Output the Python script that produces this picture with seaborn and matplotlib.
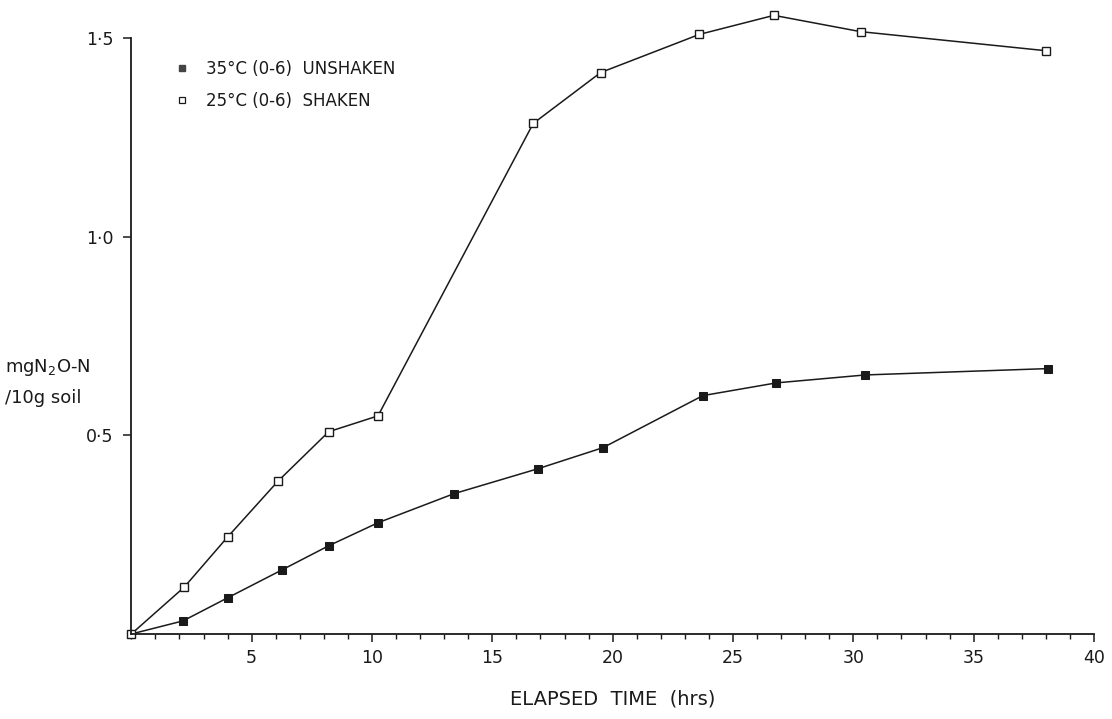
import numpy as np
import pandas as pd
import matplotlib
matplotlib.use("Agg")
import matplotlib.pyplot as plt
from matplotlib.ticker import MultipleLocator, FixedLocator, FixedFormatter
from matplotlib.lines import Line2D
import seaborn as sns

# ---- data ----
shaken_hrs = [0.0, 2.2, 4.0, 6.1, 8.2, 10.25, 16.7, 19.5, 23.6, 26.7, 30.3, 38.0]
shaken_n2o = [0.0, 0.118, 0.244, 0.385, 0.509, 0.549, 1.285, 1.413, 1.509, 1.557, 1.516, 1.468]

unshaken_hrs = [0.0, 2.15, 4.0, 6.25, 8.2, 10.25, 13.4, 16.9, 19.6, 23.75, 26.8, 30.5, 38.1]
unshaken_n2o = [0.0, 0.033, 0.091, 0.161, 0.222, 0.280, 0.353, 0.416, 0.469, 0.600, 0.632, 0.652, 0.668]

series_labels = ["35°C (0-6)  UNSHAKEN", "25°C (0-6)  SHAKEN"]
x_ticks = [5, 10, 15, 20, 25, 30, 35, 40]
y_ticks = [0.5, 1.0, 1.5]
y_tick_labels = ["0·5", "1·0", "1·5"]

df_un = pd.DataFrame({"hrs": unshaken_hrs, "n2o": unshaken_n2o})
df_sh = pd.DataFrame({"hrs": shaken_hrs, "n2o": shaken_n2o})

sns.set_theme(style="ticks")
plt.rcParams["font.family"] = ["DejaVu Sans"]

ink = "#1a1a1a"
fig = plt.figure(figsize=(11.12, 7.19), dpi=100)
ax = fig.add_axes([131.3 / 1112, 1 - 634 / 719, (1094 - 131.3) / 1112, (634 - 38) / 719])

sns.lineplot(data=df_un, x="hrs", y="n2o", ax=ax, color=ink, lw=1.1,
             marker="s", markersize=5.5, markerfacecolor=ink, markeredgecolor=ink,
             estimator=None, sort=False, clip_on=False)
sns.lineplot(data=df_sh, x="hrs", y="n2o", ax=ax, color=ink, lw=1.1,
             marker="s", markersize=5.5, markerfacecolor="white", markeredgecolor=ink,
             markeredgewidth=1.0, estimator=None, sort=False, clip_on=False)

ax.set_xlim(0, 40)
ax.set_ylim(0, 1.5)
for s in ["top", "right"]:
    ax.spines[s].set_visible(False)
for s in ["left", "bottom"]:
    ax.spines[s].set_color(ink)
    ax.spines[s].set_linewidth(1.3)

ax.xaxis.set_major_locator(FixedLocator(x_ticks))
ax.xaxis.set_minor_locator(MultipleLocator(1))
ax.yaxis.set_major_locator(FixedLocator(y_ticks))
ax.yaxis.set_major_formatter(FixedFormatter(y_tick_labels))
ax.tick_params(axis="x", which="major", length=6, width=1.1, color=ink,
               direction="out", pad=5, labelsize=12.5, labelcolor=ink)
ax.tick_params(axis="x", which="minor", length=3.5, width=1.0, color=ink, direction="out")
ax.tick_params(axis="y", which="major", length=6, width=1.1, color=ink,
               direction="out", pad=7, labelsize=12.5, labelcolor=ink)

ax.set_xlabel("ELAPSED  TIME  (hrs)", fontsize=14, color=ink, labelpad=16)
ax.set_ylabel("")

fig.text(5 / 1112, 1 - 368 / 719, "mgN$_2$O-N", fontsize=13, color=ink,
         ha="left", va="center")
fig.text(5 / 1112, 1 - 398 / 719, "/10g soil", fontsize=13, color=ink,
         ha="left", va="center")

handles = [
    Line2D([], [], ls="none", marker="s", markersize=4.5, markerfacecolor="#444444",
           markeredgecolor="#444444"),
    Line2D([], [], ls="none", marker="s", markersize=4.5, markerfacecolor="white",
           markeredgecolor=ink, markeredgewidth=0.9),
]
ax.legend(handles, series_labels, loc="upper left",
          bbox_to_anchor=(174 / 1112, 1 - 60 / 719), bbox_transform=fig.transFigure,
          frameon=False, fontsize=12, handlelength=1.0, handletextpad=0.9,
          labelspacing=0.85, borderpad=0, borderaxespad=0, labelcolor=ink)

fig.savefig("out.png", dpi=100, facecolor="white")
